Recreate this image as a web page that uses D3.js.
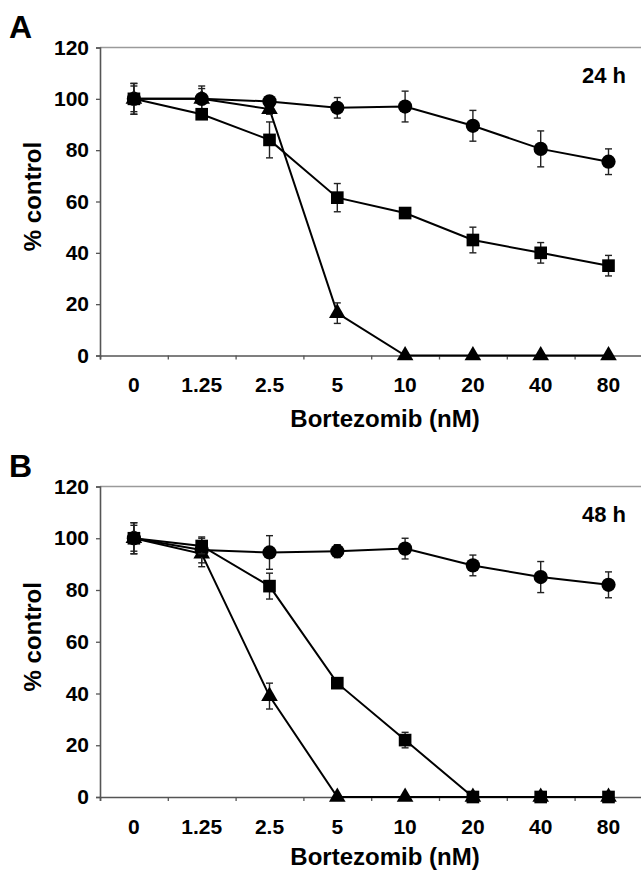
<!DOCTYPE html>
<html>
<head>
<meta charset="utf-8">
<script src="https://cdn.jsdelivr.net/npm/d3@7"></script>
<style>
  html, body { margin: 0; padding: 0; background: #fff; }
  svg { display: block; }
  text { font-family: "Liberation Sans", Arial, sans-serif; font-weight: bold; fill: #000; }
</style>
</head>
<body>
<svg id="chart" width="641" height="872"></svg>
<script>
// ---- data ----
const categories = ["0", "1.25", "2.5", "5", "10", "20", "40", "80"];
const yTicks = [0, 20, 40, 60, 80, 100, 120];

const a24Circle   = [100, 100, 99, 96.5, 97, 89.5, 80.5, 75.5];
const a24CircleE  = [6, 5, 1.5, 4, 6, 6, 7, 5];
const a24Square   = [100, 94, 84, 61.5, 55.5, 45, 40, 35];
const a24SquareE  = [5, 1.5, 7, 5.5, 1.5, 5, 4, 4];
const a24Tri      = [100, 100, 96, 16.5, 0, 0, 0, 0];
const a24TriE     = [6, 4, 2, 4, 0, 0, 0, 0];

const b48Circle   = [100, 95.5, 94.5, 95, 96, 89.5, 85, 82];
const b48CircleE  = [6, 5, 6.5, 2.5, 4, 4, 6, 5];
const b48Square   = [100, 97, 81.5, 44, 22, 0, 0, 0];
const b48SquareE  = [5, 3, 5, 1.5, 3, 0, 0, 0];
const b48Tri      = [100, 94, 39, 0, 0, 0, 0, 0];
const b48TriE     = [6, 5, 5, 0, 0, 0, 0, 0];

const panels = [
  { letter: "A", time: "24 h", top: 47.5, bottom: 355.5, titleY: 427, letterY: 38,
    series: [
      { shape: "triangle", v: a24Tri, e: a24TriE },
      { shape: "circle", v: a24Circle, e: a24CircleE },
      { shape: "square", v: a24Square, e: a24SquareE }
    ] },
  { letter: "B", time: "48 h", top: 486.5, bottom: 797, titleY: 865, letterY: 477,
    series: [
      { shape: "triangle", v: b48Tri, e: b48TriE },
      { shape: "circle", v: b48Circle, e: b48CircleE },
      { shape: "square", v: b48Square, e: b48SquareE }
    ] }
];

const svg = d3.select("#chart");
const left = 100, right = 642.4;
const x = d3.scaleBand().domain(categories).range([left, right]).paddingInner(0).paddingOuter(0);
const xb = d3.scaleLinear().domain([0, categories.length]).range([left, right]);

const symbolFor = {
  circle: d3.symbol().type(d3.symbolCircle).size(160),
  square: d3.symbol().type(d3.symbolSquare).size(160),
  triangle: d3.symbol().type(d3.symbolTriangle).size(120)
};

panels.forEach(p => {
  const y = d3.scaleLinear().domain([0, 120]).range([p.bottom, p.top]);
  const g = svg.append("g");

  // top frame line (gray)
  g.append("line")
    .attr("x1", left).attr("x2", right)
    .attr("y1", y(120)).attr("y2", y(120))
    .attr("stroke", "#9a9a9a").attr("stroke-width", 1.6);

  // y axis
  const yAxis = d3.axisLeft(y).tickValues(yTicks).tickSize(4).tickPadding(7).tickFormat(d3.format("d"));
  const ya = g.append("g").attr("transform", `translate(${left},0)`).call(yAxis);
  ya.select(".domain").attr("stroke", "#555").attr("stroke-width", 1.6);
  ya.selectAll(".tick line").attr("stroke", "#555").attr("stroke-width", 1.3);
  ya.selectAll(".tick text").attr("font-size", 21).attr("fill", "#000")
    .attr("font-family", "Liberation Sans, Arial, sans-serif").attr("font-weight", "bold");

  // x axis: boundary ticks
  const xAxis = d3.axisBottom(xb).tickValues(d3.range(0, categories.length + 1)).tickSize(4).tickFormat("");
  const xa = g.append("g").attr("transform", `translate(0,${y(0)})`).call(xAxis);
  xa.select(".domain").attr("stroke", "#555").attr("stroke-width", 1.6);
  xa.selectAll(".tick line").attr("stroke", "#555").attr("stroke-width", 1.3);

  // x category labels via band axis
  const xLab = d3.axisBottom(x).tickSize(0).tickPadding(22);
  const xl = g.append("g").attr("transform", `translate(0,${y(0)})`).call(xLab);
  xl.select(".domain").remove();
  xl.selectAll(".tick text").attr("font-size", 21).attr("fill", "#000")
    .attr("font-family", "Liberation Sans, Arial, sans-serif").attr("font-weight", "bold");

  // axis titles
  g.append("text").attr("x", 385).attr("y", p.titleY)
    .attr("text-anchor", "middle").attr("font-size", 24).text("Bortezomib (nM)");
  const ty = (p.top + p.bottom) / 2 - 5;
  g.append("text").attr("transform", `translate(41,${ty}) rotate(-90)`)
    .attr("text-anchor", "middle").attr("font-size", 24).text("% control");

  // panel letter and time
  g.append("text").attr("x", 9).attr("y", p.letterY).attr("font-size", 32).text(p.letter);
  g.append("text").attr("x", 626).attr("y", y(120) + 35).attr("text-anchor", "end")
    .attr("font-size", 22).text(p.time);

  const cx = d => x(d) + x.bandwidth() / 2;

  p.series.forEach(s => {
    const pts = categories.map((c, i) => ({ c, v: s.v[i], e: s.e[i] }));
    // line
    g.append("path").datum(pts)
      .attr("fill", "none").attr("stroke", "#000").attr("stroke-width", 2)
      .attr("d", d3.line().x(d => cx(d.c)).y(d => y(d.v)));
    // error bars
    const eb = g.append("g").attr("stroke", "#222").attr("stroke-width", 1.4);
    pts.filter(d => d.e > 0).forEach(d => {
      const X = cx(d.c);
      eb.append("line").attr("x1", X).attr("x2", X).attr("y1", y(d.v + d.e)).attr("y2", y(d.v - d.e));
      eb.append("line").attr("x1", X - 3.5).attr("x2", X + 3.5).attr("y1", y(d.v + d.e)).attr("y2", y(d.v + d.e));
      eb.append("line").attr("x1", X - 3.5).attr("x2", X + 3.5).attr("y1", y(d.v - d.e)).attr("y2", y(d.v - d.e));
    });
    // markers
    g.append("g").selectAll("path").data(pts).join("path")
      .attr("transform", d => `translate(${cx(d.c)},${y(d.v)})`)
      .attr("d", symbolFor[s.shape])
      .attr("fill", "#000");
  });
});
</script>
</body>
</html>
